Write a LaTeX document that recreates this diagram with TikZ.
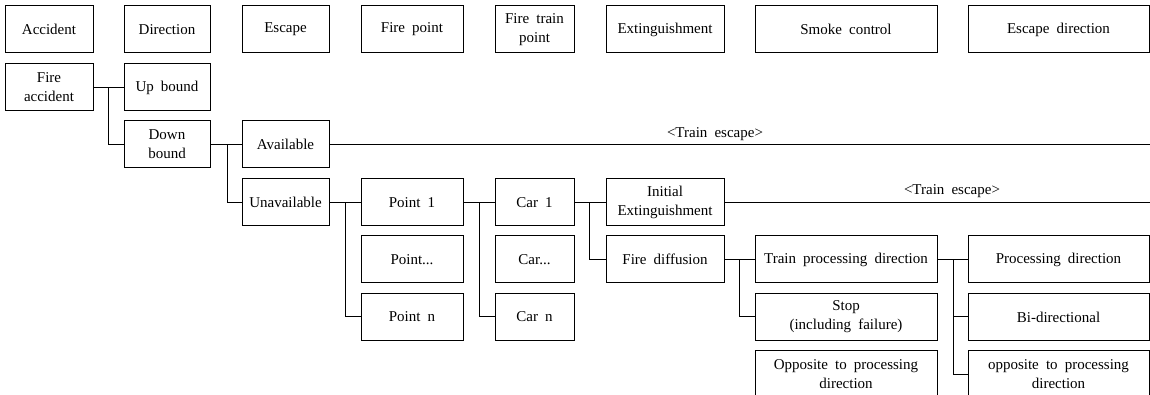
\documentclass[tikz,border=0pt]{standalone}
\usepackage{fontspec}
\setmainfont{Liberation Serif}[WordSpace=1.9]
\begin{document}
\begin{tikzpicture}[x=0.75pt,y=-0.75pt,
  bx/.style={draw, line width=0.75pt, rectangle, inner sep=0pt, align=center,
    minimum height=35.25pt, font=\fontsize{11.25}{14.3}\selectfont},
  c1/.style={bx, minimum width=66pt},
  c2/.style={bx, minimum width=64.5pt},
  c3/.style={bx, minimum width=65.25pt},
  c4/.style={bx, minimum width=76.5pt},
  c5/.style={bx, minimum width=59.25pt},
  c6/.style={bx, minimum width=88.5pt},
  c7/.style={bx, minimum width=136.5pt},
  c8/.style={bx, minimum width=135.75pt},
  conn/.style={draw, line width=0.75pt},
  lbl/.style={inner sep=0pt, font=\fontsize{11.25}{14.3}\selectfont}
]
\useasboundingbox (0,0) rectangle (1150,395);
\clip (0,0) rectangle (1150,395);
% header row
\node[c1] (h1) at (49,29.5) {Accident};
\node[c2] (h2) at (167,29.5) {Direction};
\node[c3] (h3) at (285.5,29.5) {Escape};
\node[c4] (h4) at (412,29.5) {Fire point};
\node[c5] (h5) at (534.5,29.5) {Fire train\\point};
\node[c6] (h6) at (665,29.5) {Extinguishment};
\node[c7] (h7) at (846,29.5) {Smoke control};
\node[c8] (h8) at (1058.5,29.5) {Escape direction};
% tree
\node[c1] (fire) at (49,87.5) {Fire\\accident};
\node[c2] (up) at (167,87.5) {Up bound};
\node[c2] (down) at (167,144.5) {Down\\bound};
\node[c3] (avail) at (285.5,144.5) {Available};
\node[c3] (unavail) at (285.5,202.5) {Unavailable};
\node[c4] (p1) at (412,202.5) {Point 1};
\node[c4] (pd) at (412,259.5) {Point...};
\node[c4] (pn) at (412,317) {Point n};
\node[c5] (car1) at (534.5,202.5) {Car 1};
\node[c5] (card) at (534.5,259.5) {Car...};
\node[c5] (carn) at (534.5,317) {Car n};
\node[c6] (init) at (665,202.5) {Initial\\Extinguishment};
\node[c6] (diff) at (665,259.5) {Fire diffusion};
\node[c7] (tpd) at (846,259.5) {Train processing direction};
\node[c7] (stop) at (846,317) {Stop\\(including failure)};
\node[c7] (opp1) at (846,374.5) {Opposite to processing\\direction};
\node[c8] (pdir) at (1058.5,259.5) {Processing direction};
\node[c8] (bidir) at (1058.5,317) {Bi-directional};
\node[c8] (opp2) at (1058.5,374.5) {opposite to processing\\direction};
% connectors
\draw[conn] (fire.east) -- (up.west);
\draw[conn] (fire.east) -- ++(15,0) |- (down.west);
\draw[conn] (down.east) -- (avail.west);
\draw[conn] (down.east) -- ++(17,0) |- (unavail.west);
\draw[conn] (unavail.east) -- (p1.west);
\draw[conn] (unavail.east) -- ++(16,0) |- (pn.west);
\draw[conn] (p1.east) -- (car1.west);
\draw[conn] (p1.east) -- ++(16,0) |- (carn.west);
\draw[conn] (car1.east) -- (init.west);
\draw[conn] (car1.east) -- ++(15,0) |- (diff.west);
\draw[conn] (diff.east) -- (tpd.west);
\draw[conn] (diff.east) -- ++(15,0) |- (stop.west);
\draw[conn] (tpd.east) -- (pdir.west);
\draw[conn] (tpd.east) -- ++(16,0) |- (bidir.west);
\draw[conn] (tpd.east) -- ++(16,0) |- (opp2.west);
% escape lines
\coordinate (e1) at (1150,144.5);
\coordinate (e2) at (1150,202.5);
\draw[conn] (avail.east) -- (e1);
\draw[conn] (init.east) -- (e2);
\node[lbl] (t1) at (715,134) {<Train escape>};
\node[lbl] (t2) at (952,191) {<Train escape>};
\end{tikzpicture}
\end{document}
